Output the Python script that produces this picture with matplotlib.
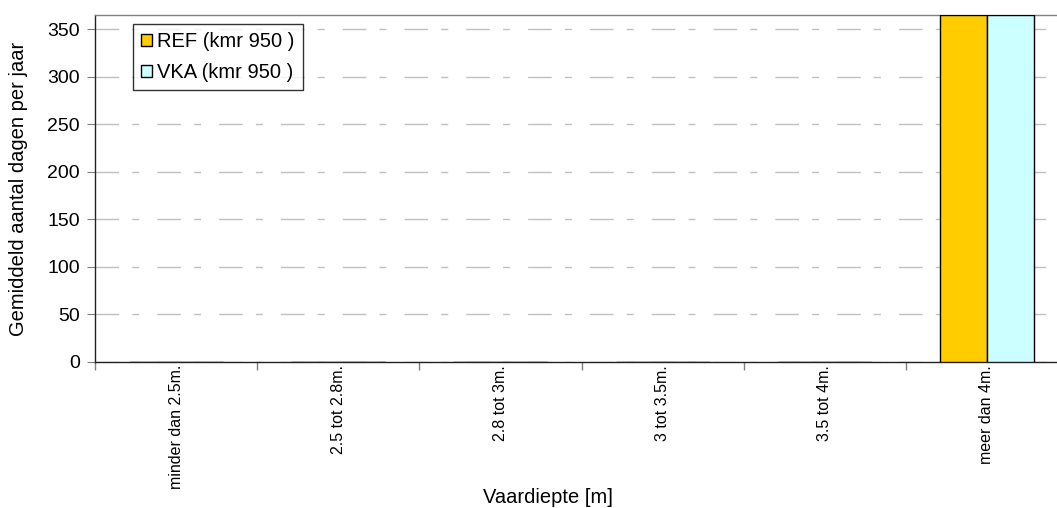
import numpy as np
import matplotlib
matplotlib.use("Agg")
import matplotlib.pyplot as plt

categories = ["minder dan 2.5m.", "2.5 tot 2.8m.", "2.8 tot 3m.",
              "3 tot 3.5m.", "3.5 tot 4m.", "meer dan 4m."]
ref_values = [0, 0, 0, 0, 0, 365]
vka_values = [0, 0, 0, 0, 0, 365]
series_names = ["REF (kmr 950 )", "VKA (kmr 950 )"]

plt.rcParams["font.family"] = ["Liberation Sans", "DejaVu Sans"]

fig = plt.figure(figsize=(10.57, 5.08), dpi=100)
# axes runs slightly past the right edge, as in the original export
ax = fig.add_axes([95 / 1057, 1 - 362 / 508, (1068 - 95) / 1057, (362 - 15) / 508])

x = np.arange(len(categories))
w = 0.29
ax.bar(x - w / 2, ref_values, w, color="#FFCC00", edgecolor="black", linewidth=1,
       label=series_names[0], zorder=3)
ax.bar(x + w / 2, vka_values, w, color="#CCFFFF", edgecolor="black", linewidth=1,
       label=series_names[1], zorder=3)

ax.set_xlim(-0.5, len(categories) - 0.5)
ax.set_ylim(0, 365)
ax.set_yticks(range(0, 351, 50))
ax.yaxis.grid(True, color="#C0C0C0", linewidth=1, dashes=(17, 9.5, 5, 13), zorder=0)

ax.set_xticks(x)
ax.set_xticklabels(categories, rotation=90, fontsize=11.5)
ax.tick_params(axis="x", length=0, pad=2)
ax.set_xticks(np.arange(-0.5, len(categories)), minor=True)
ax.tick_params(axis="x", which="minor", length=6, color="#808080", width=1)
ax.tick_params(axis="y", length=6, color="#808080", labelsize=14, pad=5)

ax.spines["left"].set_color("#222222")
ax.spines["bottom"].set_color("#222222")
ax.spines["top"].set_color("#808080")
ax.spines["right"].set_visible(False)
for s in ax.spines.values():
    s.set_linewidth(1)

ax.set_ylabel("Gemiddeld aantal dagen per jaar", fontsize=14.5)
ax.yaxis.set_label_coords(-(95 - 28) / 973, 0.5)
ax.set_xlabel("Vaardiepte [m]", fontsize=14.5)
ax.xaxis.set_label_coords((548 - 95) / 973, -(488 - 362) / 347)

leg = ax.legend(loc="upper left", bbox_to_anchor=(38 / 973, 1 - 9 / 347),
                fontsize=14.5, frameon=True, fancybox=False, edgecolor="black",
                handlelength=0.55, handleheight=0.55, handletextpad=0.25,
                borderpad=0.4, labelspacing=0.6, borderaxespad=0)
leg.get_frame().set_linewidth(1)

fig.savefig("out.png", dpi=100)
